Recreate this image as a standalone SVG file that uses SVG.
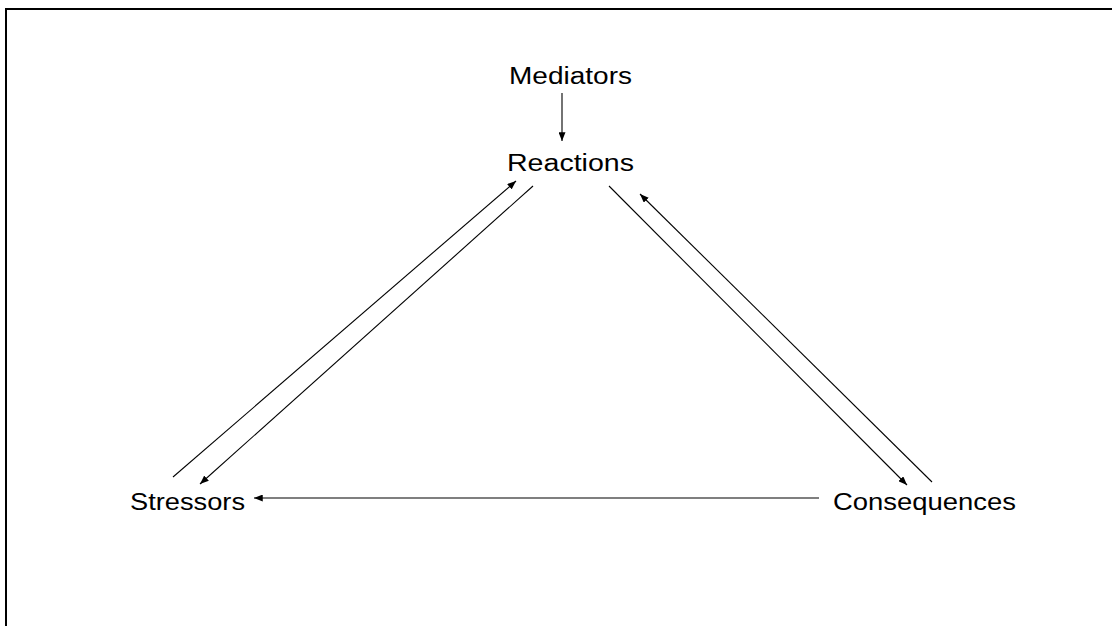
<svg xmlns="http://www.w3.org/2000/svg" width="1112" height="626" viewBox="0 0 1112 626">
<style>
.t{font-family:"Liberation Sans",Arial,sans-serif;font-size:23px;fill:#000}
.c{stroke:#000;stroke-width:1.1;fill:none;marker-end:url(#ah)}
</style>
<defs>
<marker id="ah" viewBox="0 0 10 8" refX="10" refY="4" markerWidth="9" markerHeight="7" markerUnits="userSpaceOnUse" orient="auto">
<path d="M0,0 L10,4 L0,8 Z" fill="#000"/>
</marker>
</defs>
<rect width="1112" height="626" fill="#fff"/>
<path d="M6,626 V9 H1112" stroke="#000" stroke-width="2" fill="none"/>
<g id="mediators"><text class="t" x="509" y="84" textLength="123" lengthAdjust="spacingAndGlyphs">Mediators</text></g>
<g id="reactions"><text class="t" x="507" y="171" textLength="127" lengthAdjust="spacingAndGlyphs">Reactions</text></g>
<g id="stressors"><text class="t" x="130" y="510" textLength="115" lengthAdjust="spacingAndGlyphs">Stressors</text></g>
<g id="consequences"><text class="t" x="833" y="510" textLength="183" lengthAdjust="spacingAndGlyphs">Consequences</text></g>
<g id="connectors">
<line class="c" x1="562" y1="93" x2="562" y2="141"/>
<line class="c" x1="173" y1="477" x2="516" y2="181"/>
<line class="c" x1="533" y1="186" x2="200" y2="484"/>
<line class="c" x1="609" y1="186" x2="907" y2="485"/>
<line class="c" x1="932" y1="482" x2="640" y2="194"/>
<line class="c" x1="819" y1="498" x2="254" y2="498"/>
</g>
</svg>
